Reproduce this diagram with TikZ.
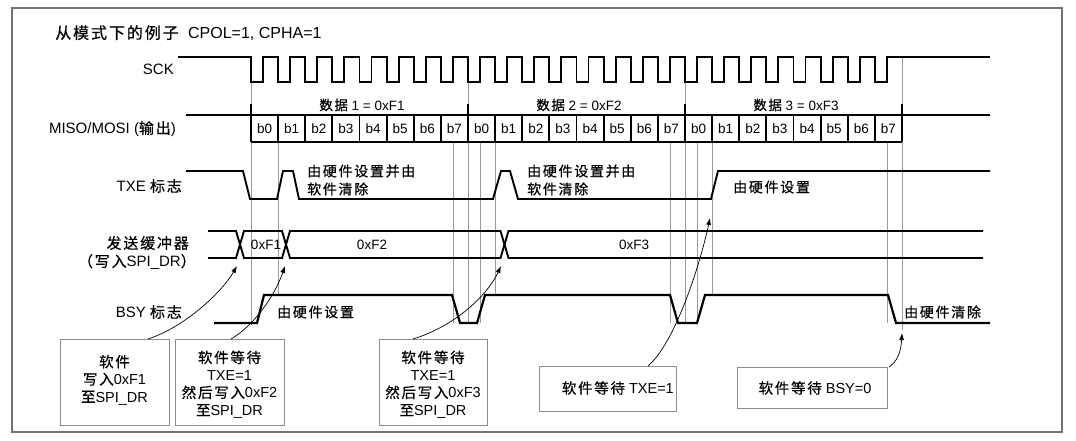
\documentclass[tikz,border=0pt]{standalone}
\usepackage{fontspec}
\setmainfont{Liberation Sans}
\newfontfamily\cjk[LetterSpace=12,FakeBold=0.6]{Noto Sans CJK SC}
\usetikzlibrary{arrows.meta}
\newcommand\zh[1]{{\cjk #1}}
\begin{document}
\begin{tikzpicture}[x=1pt,y=-1pt,
  sig/.style={line width=1.9pt, line join=miter, line cap=butt},
  guide/.style={line width=0.6pt, draw=black!40},
  lbl/.style={font=\fontsize{15}{17}\selectfont, inner sep=0pt, anchor=east},
  bit/.style={font=\fontsize{13.5}{15}\selectfont, inner sep=0pt},
  note/.style={font=\fontsize{14}{18}\selectfont, inner sep=0pt, anchor=west, align=left},
  boxnode/.style={draw=black!45, line width=0.8pt, inner sep=0pt, anchor=north west},
  boxtext/.style={font=\fontsize{14.5}{17.5}\selectfont, align=center, inner sep=0pt},
  callout/.style={line width=0.7pt, -{Latex[length=7pt,width=5pt]}},
]
\useasboundingbox (0,0) rectangle (1076,441);
\fill[white] (0,0) rectangle (1076,441);
\draw[line width=1.2pt, draw=black!55] (12,8) rectangle (1062,432);

\def\p{27.125}
% guide lines
\foreach \x/\ya/\yb in {251/82/325, 278.1/142/295, 452.9/142/323, 468/82/323,
  480/142/323, 495.1/142/295, 669.9/142/323, 685/82/323, 697/142/323,
  712.1/142/295, 886.9/142/323, 902/57/330}
  \draw[guide] (\x,\ya) -- (\x,\yb);

% title
\node[inner sep=0pt, anchor=west, font=\fontsize{16}{18}\selectfont] (title) at (55,33)
  {\zh{从模式下的例子}\hspace{5pt} CPOL=1, CPHA=1};

% SCK
\node[lbl] (sck) at (174,69) {SCK};
\draw[sig] (178,57) -- (251,57)
  \foreach \i in {0,...,23} {
    -- ({251+\i*\p},82) -- ({251+\i*\p+12},82) -- ({251+\i*\p+12},57) -- ({251+(\i+1)*\p},57)
  } -- (990,57);

% MISO/MOSI
\node[lbl] (miso) at (176,129) {MISO/MOSI (\zh{输出})};
\draw[sig] (186,115) -- (990,115);
\draw[sig] (251,142) -- (902,142);
\foreach \k in {0,...,24} \draw[sig] ({251+\k*\p},115) -- ({251+\k*\p},142);
\foreach \b in {251,468,685,902} \draw[sig] (\b,104) -- (\b,142);
\foreach \k in {0,...,23} {
  \pgfmathtruncatemacro\bn{mod(\k,8)}
  \node[bit] (bit\k) at ({251+(\k+0.5)*\p},129) {b\bn};
}
\node[bit] (byte1) at (362,105) {\zh{数据} 1 = 0xF1};
\node[bit] (byte2) at (579,105) {\zh{数据} 2 = 0xF2};
\node[bit] (byte3) at (796,105) {\zh{数据} 3 = 0xF3};

% TXE
\node[lbl] (txe) at (182,186) {TXE \zh{标志}};
\draw[sig] (186,171) -- (243,171) -- (250,199) -- (277,199) -- (283,171) -- (293,171)
  -- (299,199) -- (493,199) -- (501,171) -- (510,171) -- (518,199) -- (711,199)
  -- (718,171) -- (990,171);
\node[note] (txen1) at (307,180) {\zh{由硬件设置并由}\\\zh{软件清除}};
\node[note] (txen2) at (527,180) {\zh{由硬件设置并由}\\\zh{软件清除}};
\node[note] (txen3) at (733,187) {\zh{由硬件设置}};

% Buffer
\node[lbl] (buf1) at (189,243) {\zh{发送缓冲器}};
\node[lbl] (buf2) at (196,262) {\zh{（写入}SPI\_DR\zh{）}};
\draw[sig] (208,231) -- (236,231) -- (244,258) -- (282,258) -- (290,231) -- (500.5,231)
  -- (508.5,258) -- (983,258);
\draw[sig] (208,258) -- (236,258) -- (244,231) -- (282,231) -- (290,258) -- (500.5,258)
  -- (508.5,231) -- (983,231);
\node[bit] (v1) at (266,245) {0xF1};
\node[bit] (v2) at (372,245) {0xF2};
\node[bit] (v3) at (634,245) {0xF3};

% BSY
\node[lbl] (bsy) at (182,312) {BSY \zh{标志}};
\draw[sig, line width=2.2pt] (214,323) -- (257,323) -- (264,295) -- (452,295) -- (460,323)
  -- (477,323) -- (485,295) -- (670,295) -- (678,323) -- (697,323) -- (705,295)
  -- (888,295) -- (896,323) -- (990,323);
\node[note] (bsyn1) at (277,312) {\zh{由硬件设置}};
\node[note] (bsyn2) at (904,312) {\zh{由硬件清除}};

% bottom boxes
\node[boxnode, minimum width=109pt, minimum height=86pt] (bx1) at (60,339) {};
\node[boxtext] (bt1) at (114.5,380) {\zh{软件}\\\zh{写入}0xF1\\\zh{至}SPI\_DR};
\node[boxnode, minimum width=109pt, minimum height=86pt] (bx2) at (175,339) {};
\node[boxtext] (bt2) at (229.5,384.5) {\zh{软件等待}\\TXE=1\\\zh{然后写入}0xF2\\\zh{至}SPI\_DR};
\node[boxnode, minimum width=108pt, minimum height=86pt] (bx3) at (379,339) {};
\node[boxtext] (bt3) at (433,384.5) {\zh{软件等待}\\TXE=1\\\zh{然后写入}0xF3\\\zh{至}SPI\_DR};
\node[boxnode, minimum width=137pt, minimum height=45pt] (bx4) at (539,366) {};
\node[boxtext, anchor=east] (bt4) at (674,388) {\zh{软件等待} TXE=1};
\node[boxnode, minimum width=150pt, minimum height=41pt] (bx5) at (737,367) {};
\node[boxtext] (bt5) at (815,388) {\zh{软件等待} BSY=0};

% callouts
\coordinate (a1s) at (148,339); \coordinate (a1e) at (237,266);
\coordinate (a2s) at (231,339); \coordinate (a2e) at (285,266);
\coordinate (a3s) at (413,339); \coordinate (a3e) at (501,266);
\coordinate (a4s) at (648,366); \coordinate (a4e) at (710,218);
\coordinate (a5s) at (889,367); \coordinate (a5e) at (902,333);
\draw[callout] (a1s) .. controls (185,327) and (222,292) .. (a1e);
\draw[callout] (a2s) .. controls (252,327) and (274,298) .. (a2e);
\draw[callout] (a3s) .. controls (455,326) and (487,296) .. (a3e);
\draw[callout] (a4s) .. controls (675,343) and (700,265) .. (a4e);
\draw[callout] (a5s) .. controls (897,362) and (901,352) .. (a5e);
\end{tikzpicture}
\end{document}
